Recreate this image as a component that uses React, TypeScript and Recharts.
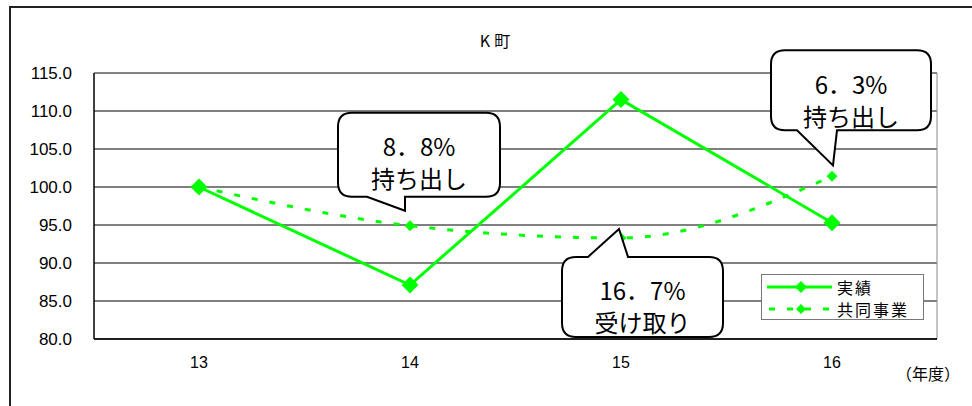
import React from 'react';
import { LineChart, Line, XAxis, YAxis, CartesianGrid, Legend, LabelList } from 'recharts';

const years = ['13', '14', '15', '16'];
const actual = [100.0, 87.1, 111.5, 95.3];
const joint = [100.0, 94.9, 93.3, 101.4];
const yTicks = [80, 85, 90, 95, 100, 105, 110, 115];
const calloutRate = ['', '8．8%', '16．7%', '6．3%'];
const calloutNote = ['', '持ち出し', '受け取り', '持ち出し'];

const data = years.map((year, i) => ({
  year,
  actual: actual[i],
  joint: joint[i],
  rate: calloutRate[i],
  note: calloutNote[i],
}));

const GREEN = '#00ff00';
const FONT = "'Liberation Sans', 'Noto Sans CJK JP', sans-serif";
const JP = "'Noto Sans CJK JP', sans-serif";

// bubble shape relative to the point it points at: box [x0,y0,x1,y1], pointer base [b0,b1], tip [tx,ty]
const bubbleShape: Record<number, { box: number[]; base: number[]; tip: number[]; side: 'top' | 'bottom' }> = {
  1: { box: [-72, -113, 90, -29], base: [-43, -5], tip: [-5, -15], side: 'bottom' },
  2: { box: [-59, 19, 102, 99], base: [-33, 7], tip: [-2, -9], side: 'top' },
  3: { box: [-61, -126, 99, -46], base: [-35, 5], tip: [1, -11], side: 'bottom' },
};

function bubblePath(x0: number, y0: number, x1: number, y1: number, r: number, side: string, b0: number, b1: number, tx: number, ty: number) {
  if (side === 'bottom') {
    return `M${x0 + r},${y0} H${x1 - r} Q${x1},${y0} ${x1},${y0 + r} V${y1 - r} Q${x1},${y1} ${x1 - r},${y1} H${b1} L${tx},${ty} L${b0},${y1} H${x0 + r} Q${x0},${y1} ${x0},${y1 - r} V${y0 + r} Q${x0},${y0} ${x0 + r},${y0} Z`;
  }
  return `M${x0 + r},${y0} H${b0} L${tx},${ty} L${b1},${y0} H${x1 - r} Q${x1},${y0} ${x1},${y0 + r} V${y1 - r} Q${x1},${y1} ${x1 - r},${y1} H${x0 + r} Q${x0},${y1} ${x0},${y1 - r} V${y0 + r} Q${x0},${y0} ${x0 + r},${y0} Z`;
}

function Callout(props: any) {
  const { index } = props;
  const px = props.x ?? props.viewBox?.x;
  const py = props.y ?? props.viewBox?.y;
  const shape = bubbleShape[index];
  if (!shape || px == null || py == null) return null;
  const [dx0, dy0, dx1, dy1] = shape.box;
  const x0 = px + dx0, y0 = py + dy0, x1 = px + dx1, y1 = py + dy1;
  const d = bubblePath(x0, y0, x1, y1, 14, shape.side, px + shape.base[0], px + shape.base[1], px + shape.tip[0], py + shape.tip[1]);
  const cx = (x0 + x1) / 2;
  return (
    <g>
      <path d={d} fill="#fff" stroke="#000" strokeWidth={2} />
      <text x={cx} y={y0 + 33} textAnchor="middle" dominantBaseline="central" fontSize={24} fontFamily={JP} fill="#000">
        {calloutRate[index]}
      </text>
      <text x={cx} y={y0 + 65} textAnchor="middle" dominantBaseline="central" fontSize={24} fontFamily={JP} fill="#000">
        {calloutNote[index]}
      </text>
    </g>
  );
}

function diamond(size: number) {
  return (p: any) => {
    const { cx, cy, index } = p;
    if (cx == null || cy == null) return <g key={index} />;
    return (
      <path
        key={index}
        d={`M${cx},${cy - size} L${cx + size},${cy} L${cx},${cy + size} L${cx - size},${cy} Z`}
        fill={GREEN}
        stroke="none"
      />
    );
  };
}

function LegendBox() {
  const row: React.CSSProperties = { display: 'flex', alignItems: 'center', height: 22 };
  const label: React.CSSProperties = { fontSize: 16, lineHeight: '22px', fontFamily: JP, letterSpacing: 2, whiteSpace: 'nowrap', color: '#000' };
  return (
    <div style={{ boxSizing: 'border-box', width: 163, height: 46, border: '1.5px solid #777', background: '#fff', padding: '1px 0 0 5px' }}>
      <div style={row}>
        <svg width={70} height={22} style={{ display: 'block', flex: 'none' }}>
          <line x1={0} y1={11} x2={65} y2={11} stroke={GREEN} strokeWidth={3} />
          <path d="M34,5 L40,11 L34,17 L28,11 Z" fill={GREEN} />
        </svg>
        <span style={label}>実績</span>
      </div>
      <div style={row}>
        <svg width={70} height={22} style={{ display: 'block', flex: 'none' }}>
          <line x1={2} y1={11} x2={62} y2={11} stroke={GREEN} strokeWidth={3} strokeDasharray="6 12" />
          <path d="M34,6 L39,11 L34,16 L29,11 Z" fill={GREEN} />
        </svg>
        <span style={label}>共同事業</span>
      </div>
    </div>
  );
}

export default function App() {
  return (
    <div style={{ position: 'absolute', left: 0, top: 0, width: 972, height: 406, overflow: 'hidden', background: '#fff', fontFamily: FONT }}>
      <div style={{ position: 'absolute', left: 9, top: 6, width: 1000, height: 1000, borderLeft: '2px solid #222', borderTop: '2px solid #222' }} />
      <div style={{ position: 'absolute', left: 0, width: 994, top: 30, textAlign: 'center', fontSize: 16, lineHeight: '20px', fontFamily: JP, letterSpacing: 4 }}>K町</div>
      <div style={{ position: 'absolute', left: 896, top: 362, fontSize: 16, lineHeight: '22px', fontFamily: JP }}>（年度）</div>
      <LineChart width={972} height={406} data={data} margin={{ top: 73, right: 35, bottom: 37, left: 34 }}>
        <CartesianGrid vertical={false} stroke="#000" />
        <CartesianGrid
          stroke="#888"
          horizontalCoordinatesGenerator={({ offset }: any) => [offset.top]}
          verticalCoordinatesGenerator={({ offset }: any) => [offset.left + offset.width]}
        />
        <XAxis
          dataKey="year"
          padding={{ left: 105, right: 105 }}
          height={30}
          axisLine={{ stroke: '#000', strokeWidth: 1.5 }}
          tickLine={false}
          tickSize={6}
          tickMargin={12}
          tick={{ fill: '#000', fontSize: 16, fontFamily: FONT }}
        />
        <YAxis
          width={60}
          domain={[80, 115]}
          ticks={yTicks}
          interval={0}
          tickFormatter={(v: number) => v.toFixed(1)}
          axisLine={{ stroke: '#000', strokeWidth: 1.5 }}
          tickLine={false}
          tickSize={6}
          tickMargin={16}
          tick={{ fill: '#000', fontSize: 17, fontFamily: FONT }}
        />
        <Legend
          layout="vertical"
          align="center"
          verticalAlign="middle"
          wrapperStyle={{ left: 761, top: 274, width: 163, height: 46 }}
          content={() => <LegendBox />}
        />
        <Line
          dataKey="actual"
          name="実績"
          type="linear"
          stroke={GREEN}
          strokeWidth={3}
          dot={diamond(8.5)}
          activeDot={false}
          isAnimationActive={false}
        />
        <Line
          dataKey="joint"
          name="共同事業"
          type="monotone"
          stroke={GREEN}
          strokeWidth={3}
          strokeDasharray="6 12"
          dot={diamond(5.5)}
          activeDot={false}
          isAnimationActive={false}
        >
          <LabelList dataKey="rate" content={(p: any) => <Callout {...p} />} />
        </Line>
      </LineChart>
    </div>
  );
}
